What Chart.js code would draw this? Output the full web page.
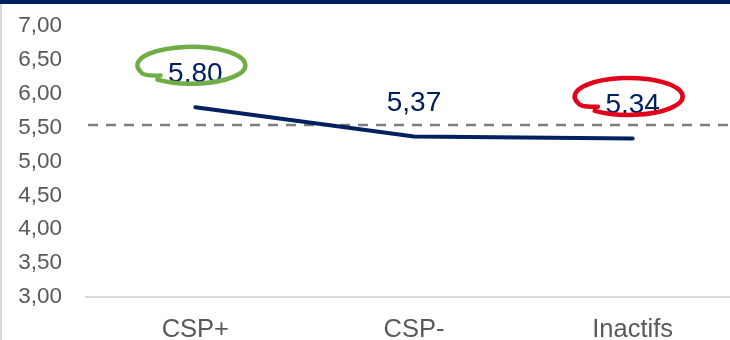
<!DOCTYPE html>
<html>
<head>
<meta charset="utf-8">
<script src="https://cdn.jsdelivr.net/npm/chart.js@4/dist/chart.umd.min.js"></script>
<style>
  html, body { margin: 0; padding: 0; background: #fff; overflow: hidden; }
  #wrap { position: relative; width: 742px; height: 340px; }
  #topbar { position: absolute; left: 0; top: 0; width: 730px; height: 4px; background: #002060; }
  #leftbar { position: absolute; left: 0; top: 4px; width: 2px; height: 336px; background: #D9D9D9; }
</style>
</head>
<body>
<div id="wrap">
  <canvas id="chart" width="742" height="340"></canvas>
  <div id="topbar"></div>
  <div id="leftbar"></div>
</div>
<script>
var categories = ['CSP+', 'CSP-', 'Inactifs'];
var scores = [5.80, 5.37, 5.34];
var average = 5.54;
var yTicks = [3, 7, 0.5]; // min, max, step
var circled = ['#70AD47', null, '#E2001A'];

var navy = '#002060';
var grey = '#595959';

function fr(v) {
  return v.toFixed(2).replace('.', ',');
}

var overlay = {
  id: 'overlay',
  beforeDatasetsDraw: function(chart) {
    var ctx = chart.ctx;
    var area = chart.chartArea;
    var y = chart.scales.y.getPixelForValue(average);
    ctx.save();
    ctx.strokeStyle = '#7F7F7F';
    ctx.lineWidth = 2.5;
    ctx.setLineDash([10, 8]);
    ctx.beginPath();
    ctx.moveTo(area.left + 2, y);
    ctx.lineTo(chart.width, y);
    ctx.stroke();
    ctx.restore();
  },
  afterDatasetsDraw: function(chart) {
    var ctx = chart.ctx;
    var pts = chart.getDatasetMeta(0).data;
    ctx.save();
    ctx.font = '28px "Liberation Sans", Arial, sans-serif';
    ctx.fillStyle = navy;
    ctx.textAlign = 'center';
    ctx.textBaseline = 'middle';
    pts.forEach(function(p, i) {
      var lx = p.x, dc = p.y - 35;
      ctx.fillText(fr(scores[i]), lx, dc + 2);
      if (!circled[i]) return;
      // hand drawn loop around the label
      var cx = lx - 4, cy = dc - 7, rx = 54, ry = 18.5;
      ctx.strokeStyle = circled[i];
      ctx.lineWidth = 4.5;
      ctx.lineCap = 'round';
      ctx.beginPath();
      ctx.ellipse(cx, cy, rx, ry, 0, 129 * Math.PI / 180, -200 * Math.PI / 180, true);
      ctx.quadraticCurveTo(cx - 0.9 * rx, cy + 0.6 * ry, cx - 0.57 * rx, cy + 0.55 * ry);
      ctx.stroke();
    });
    ctx.restore();
  }
};

new Chart(document.getElementById('chart').getContext('2d'), {
  type: 'line',
  data: {
    labels: categories,
    datasets: [{
      data: scores,
      borderColor: navy,
      borderWidth: 4,
      borderCapStyle: 'round',
      pointRadius: 0,
      tension: 0,
      fill: false
    }]
  },
  options: {
    responsive: false,
    animation: false,
    layout: { padding: { top: 26, left: 0, right: 0, bottom: 0 } },
    plugins: { legend: { display: false }, tooltip: { enabled: false } },
    scales: {
      x: {
        offset: true,
        grid: { display: false },
        border: { display: true, color: '#D9D9D9', width: 2 },
        ticks: { color: grey, padding: 10, font: { family: 'Liberation Sans', size: 25.5 } },
        afterFit: function(s) { s.height = 43; }
      },
      y: {
        min: yTicks[0],
        max: yTicks[1],
        grid: { display: false },
        border: { display: false },
        ticks: {
          stepSize: yTicks[2],
          color: grey,
          padding: 16,
          font: { family: 'Liberation Sans', size: 22.5 },
          callback: function(v) { return fr(v); }
        },
        afterFit: function(s) {
          s.width = 86;
          s.paddingTop = 0;
          s.paddingBottom = 0;
        }
      }
    }
  },
  plugins: [overlay]
});
</script>
</body>
</html>
